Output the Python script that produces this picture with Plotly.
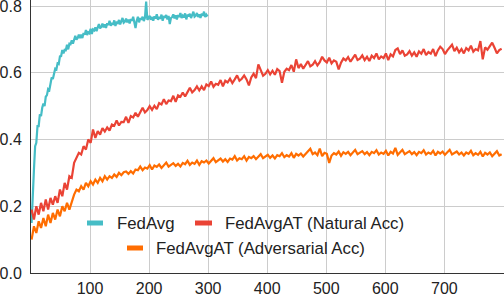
import plotly.graph_objects as go

# ---- data ----
rounds_fedavg = list(range(1, 300, 2))
fedavg = [
    .15, .26, .31, .38, .39, .44, .44, .475, .47, .495,
    .508, .500, .528, .533, .551, .548, .567, .586, .581, .594,
    .612, .610, .628, .626, .649, .650, .668, .658, .669, .668,
    .684, .670, .687, .686, .697, .687, .699, .711, .699, .704,
    .714, .704, .714, .704, .719, .714, .728, .713, .721, .718,
    .732, .716, .730, .727, .736, .725, .736, .746, .733, .737,
    .747, .736, .745, .734, .748, .743, .756, .741, .749, .744,
    .757, .740, .753, .749, .758, .745, .755, .764, .750, .753,
    .762, .751, .759, .748, .761, .756, .768, .753, .734, .756,
    .768, .751, .764, .759, .768, .755, .765, .813, .759, .763,
    .771, .759, .767, .756, .769, .763, .775, .759, .767, .762,
    .774, .756, .770, .765, .773, .760, .770, .746, .764, .767,
    .775, .763, .772, .760, .773, .767, .779, .764, .771, .766,
    .778, .760, .774, .769, .777, .764, .773, .783, .768, .771,
    .779, .767, .775, .764, .777, .771, .783, .767, .774, .769,
]

rounds_at = list(range(1, 800, 4))
natural_acc = [
    .19, .16, .20, .175, .21, .185, .22, .19, .225, .205,
    .23, .21, .25, .23, .27, .25, .29, .285, .33, .345,
    .36, .355, .38, .37, .40, .39, .43, .405, .425, .415,
    .434, .424, .436, .427, .445, .441, .457, .442, .453, .452,
    .468, .450, .470, .466, .480, .468, .482, .495, .481, .488,
    .500, .489, .501, .491, .509, .505, .521, .506, .517, .515,
    .531, .513, .532, .528, .541, .529, .542, .555, .541, .548,
    .559, .547, .559, .548, .565, .560, .574, .558, .567, .564,
    .578, .559, .576, .571, .582, .569, .580, .592, .576, .582,
    .592, .580, .562, .586, .597, .584, .625, .607, .591, .597,
    .608, .595, .606, .594, .611, .605, .570, .603, .612, .608,
    .623, .603, .640, .614, .626, .612, .623, .635, .619, .624,
    .635, .622, .632, .648, .637, .631, .645, .628, .637, .633,
    .610, .630, .643, .637, .647, .633, .644, .654, .638, .642,
    .652, .638, .648, .635, .651, .644, .658, .640, .649, .644,
    .658, .638, .655, .649, .668, .673, .656, .667, .651, .655,
    .665, .651, .661, .648, .664, .657, .671, .653, .662, .657,
    .671, .650, .667, .678, .671, .656, .667, .677, .684, .665,
    .675, .661, .671, .658, .674, .667, .681, .663, .671, .667,
    .695, .640, .676, .669, .679, .690, .675, .658, .668, .672,
]
adversarial_acc = [
    .10, .14, .12, .155, .135, .165, .14, .175, .15, .18,
    .16, .19, .17, .20, .185, .21, .19, .215, .235, .25,
    .245, .26, .25, .27, .26, .275, .265, .28, .27, .285,
    .275, .29, .28, .29, .285, .295, .288, .30, .293, .302,
    .304, .297, .305, .298, .310, .308, .319, .308, .316, .313,
    .323, .310, .322, .318, .325, .315, .323, .331, .319, .323,
    .329, .321, .327, .319, .330, .326, .336, .324, .331, .327,
    .337, .324, .335, .331, .337, .328, .336, .344, .332, .337,
    .343, .334, .341, .333, .343, .340, .350, .337, .344, .341,
    .350, .337, .348, .344, .350, .341, .348, .356, .344, .348,
    .354, .345, .352, .343, .353, .350, .359, .347, .353, .349,
    .359, .345, .357, .352, .358, .349, .356, .364, .372, .356,
    .361, .353, .373, .350, .360, .357, .330, .352, .359, .355,
    .364, .351, .362, .357, .363, .353, .360, .369, .356, .360,
    .365, .356, .362, .353, .363, .359, .368, .355, .361, .357,
    .366, .352, .363, .358, .375, .354, .361, .369, .356, .360,
    .365, .356, .362, .353, .363, .359, .368, .355, .361, .357,
    .366, .352, .363, .358, .364, .354, .361, .369, .355, .359,
    .364, .355, .361, .352, .361, .357, .366, .353, .359, .354,
    .363, .349, .360, .355, .361, .350, .357, .365, .352, .356,
]

series_names = ["FedAvg", "FedAvgAT (Natural Acc)", "FedAvgAT (Adversarial Acc)"]
colors = ["#46bdc6", "#ea4335", "#ff6d01"]

x_ticks = [100, 200, 300, 400, 500, 600, 700]
y_ticks = [0.0, 0.2, 0.4, 0.6, 0.8]
y_tick_text = ["0.0", "0.2", "0.4", "0.6", "0.8"]

FONT = "Liberation Sans, Arial, sans-serif"

fig = go.Figure()
for rx, ry, name, col in [
    (rounds_fedavg, fedavg, series_names[0], colors[0]),
    (rounds_at, natural_acc, series_names[1], colors[1]),
    (rounds_at, adversarial_acc, series_names[2], colors[2]),
]:
    fig.add_trace(go.Scatter(x=rx, y=ry, mode="lines", name=name,
                             line=dict(color=col, width=2.2), showlegend=False))

# ---- manual legend (two centred rows, short swatches) ----
L, W, H = 31, 473, 273
def px(xp):
    return (xp - L) / W
def py(yp):
    return (H - yp) / H

legend_items = [
    (0, 87, 103, 115, 223),
    (1, 195, 212, 223, 223),
    (2, 127, 143, 154, 248),
]
for idx, x0, x1, tx, yc in legend_items:
    fig.add_shape(type="line", xref="paper", yref="paper",
                  x0=px(x0), x1=px(x1), y0=py(yc), y1=py(yc),
                  line=dict(color=colors[idx], width=5))
    fig.add_annotation(xref="paper", yref="paper", x=px(tx), y=py(yc),
                       text=series_names[idx], showarrow=False,
                       xanchor="left", yanchor="middle",
                       font=dict(family=FONT, size=16.8, color="#222222"))

fig.update_layout(
    width=504, height=298,
    margin=dict(l=31, r=0, t=0, b=25),
    paper_bgcolor="white", plot_bgcolor="white",
    font=dict(family=FONT, size=16, color="#222222"),
    showlegend=False,
)
fig.update_xaxes(range=[0, 801], tickvals=x_ticks, ticktext=[str(v) for v in x_ticks],
                 showgrid=True, gridcolor="#cccccc", gridwidth=1,
                 showline=True, linecolor="#333333", linewidth=1,
                 zeroline=False, ticks="", ticklabelstandoff=1, automargin=False)
fig.update_yaxes(range=[0, 0.818], tickvals=y_ticks, ticktext=y_tick_text,
                 showgrid=True, gridcolor="#cccccc", gridwidth=1,
                 showline=True, linecolor="#333333", linewidth=1,
                 zeroline=False, ticks="", ticklabelstandoff=5, automargin=False,
                 ticklabeloverflow="allow")

fig.write_html("out.html", config={"displayModeBar": False},
               post_script="document.body.style.margin='0';")
